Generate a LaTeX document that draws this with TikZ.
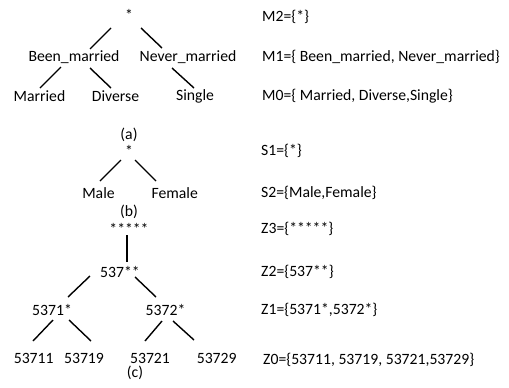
\documentclass[tikz,border=0pt]{standalone}
\usepackage{fontspec}
\setmainfont{Carlito}
\newcommand{\fs}{\fontsize{15.7}{18}\selectfont}
\begin{document}
\begin{tikzpicture}[x=1pt,y=-1pt,
  t/.style={font=\fs, inner sep=0pt},
  lab/.style={t, anchor=west},
  ln/.style={line width=1.4pt}]
\useasboundingbox (0,0) rectangle (509,388);
% tree (a)
\node[t] (r1) at (129,15) {*};
\node[t] (bm) at (74,57) {Been\_married};
\node[t] (nm) at (188,57) {Never\_married};
\node[t] (ma) at (39.5,96) {Married};
\node[t] (di) at (115.5,96) {Diverse};
\node[t] (si) at (195,96) {Single};
\node[t] (ca) at (129,135) {(a)};
% tree (b)
\node[t] (r2) at (129,151) {*};
\node[t] (male) at (98.5,193) {Male};
\node[t] (female) at (174.7,193) {Female};
\node[t] (cb) at (129,212) {(b)};
% tree (c)
\node[t] (z3) at (129,229) {*****};
\node[t] (z2) at (120,272) {537**};
\node[t] (z1a) at (52,310) {5371*};
\node[t] (z1b) at (165.5,310) {5372*};
\node[t] (l1) at (33.7,358) {53711};
\node[t] (l2) at (84,358) {53719};
\node[t] (l3) at (150,358) {53721};
\node[t] (l4) at (216.7,358) {53729};
\node[t] (cc) at (135,373) {(c)};
% labels
\node[lab] (m2) at (262,17) {M2=\{*\}};
\node[lab] (m1) at (262,57) {M1=\{ Been\_married, Never\_married\}};
\node[lab] (m0) at (262,96) {M0=\{ Married, Diverse,Single\}};
\node[lab] (s1) at (261,151) {S1=\{*\}};
\node[lab] (s2) at (261,193) {S2=\{Male,Female\}};
\node[lab] (lz3) at (261,229) {Z3=\{*****\}};
\node[lab] (lz2) at (261,272) {Z2=\{537**\}};
\node[lab] (lz1) at (261,310) {Z1=\{5371*,5372*\}};
\node[lab] (lz0) at (263,360) {Z0=\{53711, 53719, 53721,53729\}};
% connectors
\draw[ln] ([shift={(-18,13)}]r1.center) -- ([shift={(16,-8)}]bm.center);
\draw[ln] ([shift={(12,13)}]r1.center) -- ([shift={(-26,-9)}]nm.center);
\draw[ln] ([shift={(-13,10)}]bm.center) -- ([shift={(0.5,-8)}]ma.center);
\draw[ln] ([shift={(16,11)}]bm.center) -- ([shift={(-4.5,-8)}]di.center);
\draw[ln] ([shift={(-16,11)}]nm.center) -- ([shift={(-1,-8)}]si.center);
\draw[ln] ([shift={(-8,9)}]r2.center) -- ([shift={(1.5,-12)}]male.center);
\draw[ln] ([shift={(6,9)}]r2.center) -- ([shift={(-18.7,-12)}]female.center);
\draw[ln] ([shift={(-2,6)}]z3.center) -- ([shift={(7,-10)}]z2.center);
\draw[ln] ([shift={(-30,4)}]z2.center) -- ([shift={(16,-13)}]z1a.center);
\draw[ln] ([shift={(15,5)}]z2.center) -- ([shift={(-9.5,-13)}]z1b.center);
\draw[ln] ([shift={(1,10)}]z1a.center) -- ([shift={(-0.7,-17)}]l1.center);
\draw[ln] ([shift={(17,10)}]z1a.center) -- ([shift={(7,-17)}]l2.center);
\draw[ln] ([shift={(-3.5,11)}]z1b.center) -- ([shift={(-5,-17)}]l3.center);
\draw[ln] ([shift={(7.5,11)}]z1b.center) -- ([shift={(-22.7,-18)}]l4.center);
\end{tikzpicture}
\end{document}
